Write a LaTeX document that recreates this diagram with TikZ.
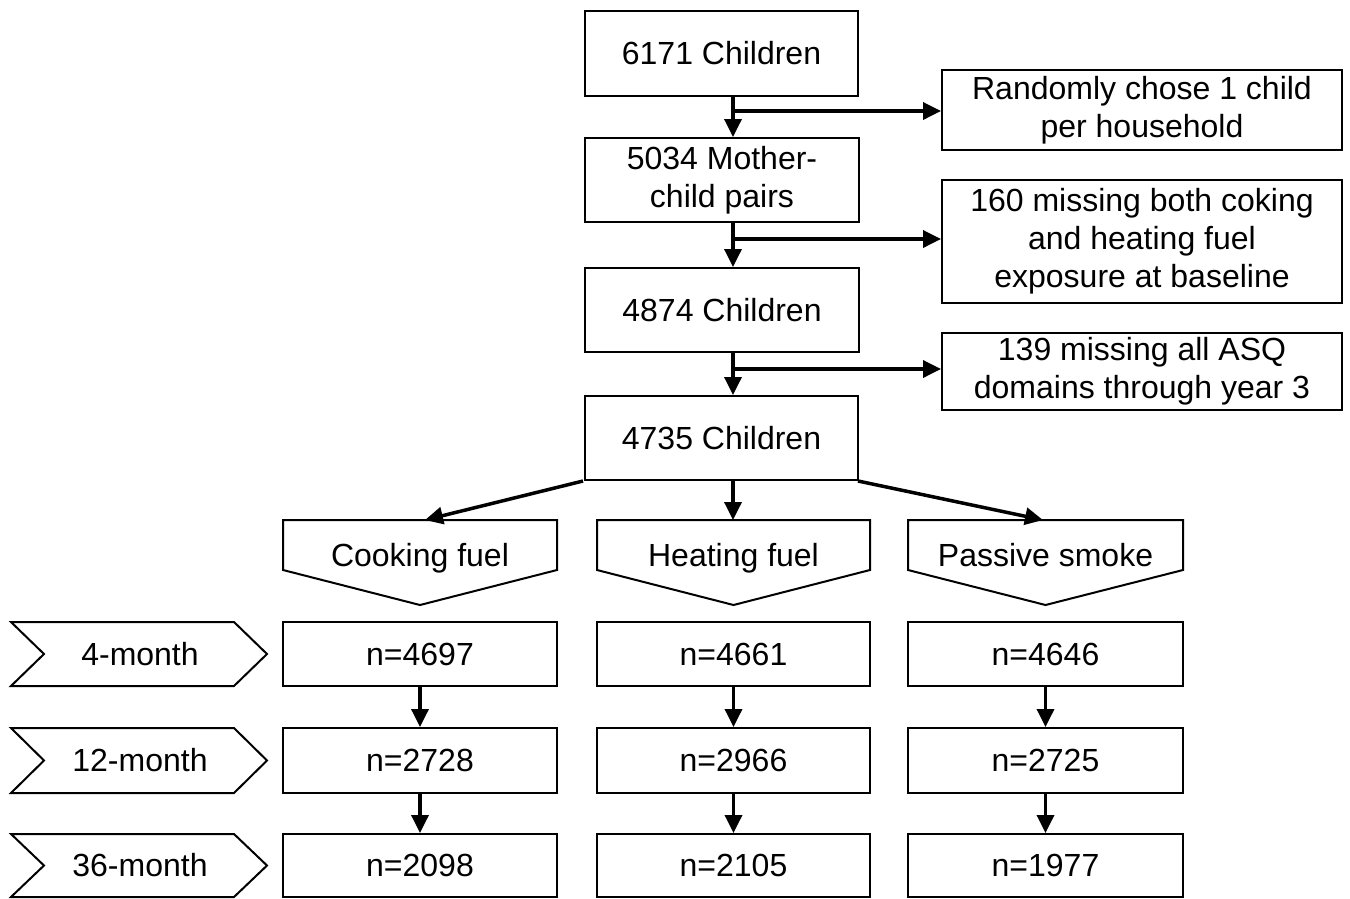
\documentclass[tikz,border=0pt]{standalone}
\usepackage{fontspec}
\setmainfont{Liberation Sans}
\usetikzlibrary{arrows.meta}
\begin{document}
\begin{tikzpicture}[x=1pt,y=-1pt,
  box/.style={draw, line width=2pt, align=center, inner sep=0pt,
    font=\fontsize{32}{38}\selectfont},
  lbl/.style={inner sep=0pt, font=\fontsize{32}{38}\selectfont},
  shp/.style={draw, line width=2pt, line join=miter},
  arr/.style={line width=3.5pt, -{Triangle[length=18pt,width=17pt]}}]
\useasboundingbox (0,0) rectangle (1350,898);
% main column
\node[box, minimum width=273pt, minimum height=85pt] (m1) at (721.5,53.5) {6171 Children};
\node[box, minimum width=274pt, minimum height=84pt] (m2) at (722,180) {5034 Mother-\\child pairs};
\node[box, minimum width=274pt, minimum height=84pt] (m3) at (722,310) {4874 Children};
\node[box, minimum width=273pt, minimum height=84pt] (m4) at (721.5,438) {4735 Children};
% side boxes
\node[box, minimum width=400pt, minimum height=80pt] (s1) at (1142,110) {Randomly chose 1 child\\per household};
\node[box, minimum width=400pt, minimum height=123pt] (s2) at (1142,241.5) {160 missing both coking\\and heating fuel\\exposure at baseline};
\node[box, minimum width=400pt, minimum height=77pt] (s3) at (1142,371.5) {139 missing all ASQ\\domains through year 3};
\coordinate (sp) at (733,0);
\draw[arr] (m1.south -| sp) -- (m2.north -| sp);
\draw[arr] (m2.south -| sp) -- (m3.north -| sp);
\draw[arr] (m3.south -| sp) -- (m4.north -| sp);
\coordinate (j1) at (733,111);
\coordinate (j2) at (733,239);
\coordinate (j3) at (733,369);
\draw[arr] (j1) -- (j1 -| s1.west);
\draw[arr] (j2) -- (j2 -| s2.west);
\draw[arr] (j3) -- (j3 -| s3.west);
% pentagons
\draw[shp] (283,520) -- (557,520) -- (557,570) -- (420,605) -- (283,570) -- cycle;
\draw[shp] (597,520) -- (870,520) -- (870,570) -- (733.5,605) -- (597,570) -- cycle;
\draw[shp] (908,520) -- (1183,520) -- (1183,570) -- (1045.5,605) -- (908,570) -- cycle;
\node[lbl, anchor=base] (p1) at (420,566) {Cooking fuel};
\node[lbl, anchor=base] (p2) at (733.5,566) {Heating fuel};
\node[lbl, anchor=base] (p3) at (1045.5,566) {Passive smoke};
\coordinate (p1t) at (425,520);
\coordinate (p2t) at (733,520);
\coordinate (p3t) at (1043,520);
\coordinate (m4l) at (583,481);
\coordinate (m4r) at (858,481);
\draw[arr] (m4l) -- (p1t);
\draw[arr] (m4.south -| sp) -- (p2t);
\draw[arr] (m4r) -- (p3t);
% chevrons
\foreach \yt/\yb/\t/\nm in {622/686/4-month/c1, 728/793/12-month/c2, 834/897/36-month/c3}{
  \draw[shp] (11,\yt) -- (234,\yt) -- (267,{(\yt+\yb)/2}) -- (234,\yb) -- (11,\yb) -- (44,{(\yt+\yb)/2}) -- cycle;
  \node[lbl, anchor=base] (\nm) at (140,{(\yt+\yb)/2+11}) {\t};
}
% n boxes
\foreach \cx/\w/\col/\na/\nb/\nc in {420/274/a/4697/2728/2098, 733.5/273/b/4661/2966/2105, 1045.5/275/c/4646/2725/1977}{
  \node[box, minimum width=\w pt, minimum height=64pt] (\col1) at (\cx,654) {n=\na};
  \node[box, minimum width=\w pt, minimum height=65pt] (\col2) at (\cx,760.5) {n=\nb};
  \node[box, minimum width=\w pt, minimum height=63pt] (\col3) at (\cx,865.5) {n=\nc};
  \draw[arr] (\col1) -- (\col2);
  \draw[arr] (\col2) -- (\col3);
}
\end{tikzpicture}
\end{document}
